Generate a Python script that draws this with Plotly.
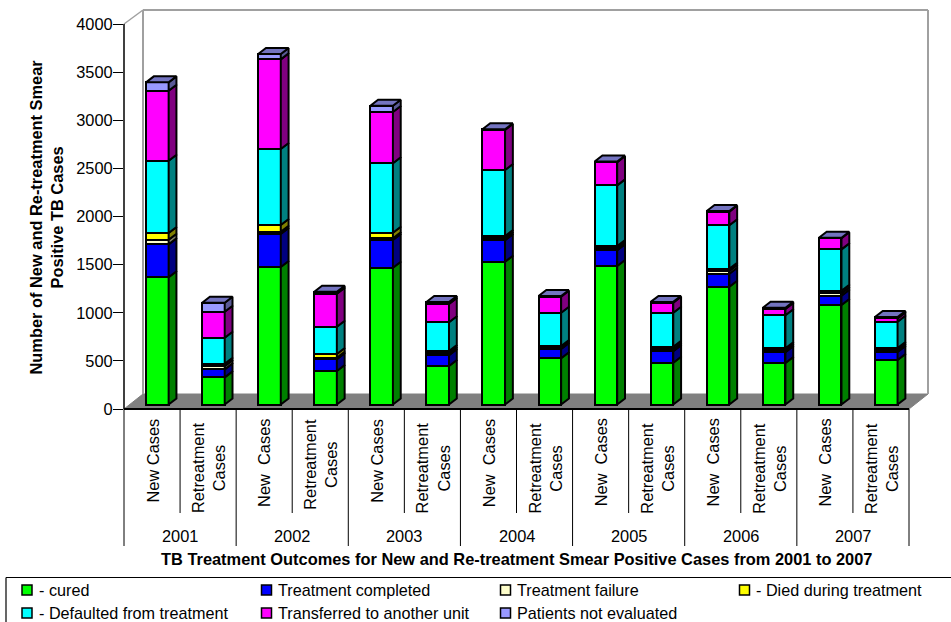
import plotly.graph_objects as go

# Reported cases per outcome, one value per cohort
years = ["2001", "2002", "2003", "2004", "2005", "2006", "2007"]
cohorts = ["New Cases", "New\u00a0 Cases", "New Cases", "New\u00a0 Cases", "New\u00a0 Cases", "New\u00a0 Cases", "New\u00a0 Cases"]
retreatment_label = "Retreatment<br>Cases"

cured = [1322, 282, 1428, 348, 1421, 400, 1484, 480, 1439, 434, 1224, 431, 1034, 462]
completed = [342, 83, 343, 122, 288, 111, 222, 97, 163, 119, 135, 111, 96, 83]
failure = [48, 32, 24, 16, 18, 20, 21, 15, 21, 20, 28, 24, 25, 21]
died = [70, 27, 70, 39, 58, 25, 24, 16, 24, 27, 24, 18, 27, 21]
defaulted = [751, 270, 790, 283, 721, 298, 685, 346, 630, 354, 451, 343, 430, 273]
transferred = [727, 270, 931, 343, 533, 190, 416, 166, 239, 104, 141, 65, 115, 35]
not_evaluated = [87, 94, 56, 21, 65, 21, 8, 8, 8, 8, 8, 14, 6, 14]

outcomes = [
    ("- cured", cured, "#00FF00", "#008000"),
    ("Treatment completed", completed, "#0000FF", "#000080"),
    ("Treatment failure", failure, "#FFFFCC", "#808066"),
    ("- Died during treatment", died, "#FFFF00", "#808000"),
    ("- Defaulted from treatment", defaulted, "#00FFFF", "#008080"),
    ("Transferred to another unit", transferred, "#FF00FF", "#800080"),
    ("Patients not evaluated", not_evaluated, "#9999FF", "#5A5A96"),
]
roof_colour = "#7373C0"

# Page geometry in pixels: the plot rectangle holds the front plane plus the depth
WIDTH, HEIGHT = 951, 622
LEFT, RIGHT, TOP, BOTTOM = 124, 930, 8, 409
FRONT_RIGHT = 909
N = len(cured)
PX_X = (FRONT_RIGHT - LEFT) / N
AXIS_MAX = 4000
PX_Y = (BOTTOM - 24) / AXIS_MAX
WALL_DX, WALL_DY = 19, 15
BAR_W = 22.6
BAR_DX, BAR_DY = 7.8, 6
BAR_SHIFT_X, BAR_SHIFT_Y = 5.3, 4.5
TEXT_SIZE = 16.4
LEGEND_SIZE = 16.2
EDGE = 2


def paper_x(px):
    return (px - LEFT) / (RIGHT - LEFT)


def paper_y(py):
    return (BOTTOM - py) / (BOTTOM - TOP)


fig = go.Figure()

# Front faces are ordinary stacked bars lifted onto the floor of the box
stack = [0] * N
front_x = [i + 0.5 + BAR_SHIFT_X / PX_X for i in range(N)]
lift = BAR_SHIFT_Y / PX_Y
half = BAR_W / 2 / PX_X
ddx = BAR_DX / PX_X
ddy = BAR_DY / PX_Y
for name, values, colour, shade in outcomes:
    fig.add_trace(go.Bar(
        x=front_x, y=values, base=[s + lift for s in stack], width=BAR_W / PX_X,
        name=name, marker=dict(color=colour, line=dict(color="black", width=EDGE)),
        showlegend=False,
    ))
    # Right-hand side of each segment, in the darker tone
    xs, ys = [], []
    for i in range(N):
        x0 = front_x[i] + half
        y0 = stack[i] + lift
        y1 = y0 + values[i]
        xs += [x0, x0 + ddx, x0 + ddx, x0, x0, None]
        ys += [y0, y0 + ddy, y1 + ddy, y1, y0, None]
    fig.add_trace(go.Scatter(
        x=xs, y=ys, mode="lines", fill="toself", fillcolor=shade,
        line=dict(color="black", width=EDGE), hoverinfo="skip", showlegend=False,
    ))
    stack = [s + v for s, v in zip(stack, values)]

# Roof of each column
xs, ys = [], []
for i in range(N):
    x0, x1 = front_x[i] - half, front_x[i] + half
    y0 = stack[i] + lift
    xs += [x0, x1, x1 + ddx, x0 + ddx, x0, None]
    ys += [y0, y0, y0 + ddy, y0 + ddy, y0, None]
fig.add_trace(go.Scatter(
    x=xs, y=ys, mode="lines", fill="toself", fillcolor=roof_colour,
    line=dict(color="black", width=EDGE), hoverinfo="skip", showlegend=False,
))

shapes = []


def paper_line(x0, y0, x1, y1, colour="black", width=1.0, layer="above"):
    shapes.append(dict(type="line", xref="paper", yref="paper",
                       x0=paper_x(x0), y0=paper_y(y0), x1=paper_x(x1), y1=paper_y(y1),
                       line=dict(color=colour, width=width), layer=layer))


# Floor and the walls of the box
back_l, back_r = LEFT + WALL_DX, FRONT_RIGHT + WALL_DX
floor_back, wall_top = BOTTOM - WALL_DY, 10
shapes.append(dict(
    type="path", xref="paper", yref="paper", layer="below",
    path=f"M{paper_x(LEFT)},{paper_y(BOTTOM)} L{paper_x(back_l)},{paper_y(floor_back)} "
         f"L{paper_x(back_r)},{paper_y(floor_back)} L{paper_x(FRONT_RIGHT)},{paper_y(BOTTOM)} Z",
    fillcolor="#808080", line=dict(color="#808080", width=1),
))
wall = "#A0A0A0"
paper_line(back_l, wall_top, back_l, floor_back, wall, 2, "below")
paper_line(back_l, wall_top, back_r, wall_top, wall, 2, "below")
paper_line(back_r, wall_top, back_r, floor_back, wall, 2, "below")
paper_line(LEFT, 24, back_l, wall_top, wall, 1.5, "below")

# Front axis lines
paper_line(LEFT, 24, LEFT, BOTTOM, "black", 1.5)
paper_line(LEFT, BOTTOM, FRONT_RIGHT, BOTTOM, "black", 2)

annotations = []


def label(text, x, y, size=TEXT_SIZE, bold=False, angle=0, anchor="center"):
    annotations.append(dict(
        text=f"<b>{text}</b>" if bold else text, xref="paper", yref="paper",
        x=paper_x(x), y=paper_y(y), xanchor=anchor, yanchor="middle",
        showarrow=False, textangle=angle,
        font=dict(family="Liberation Sans, Arial", size=size, color="black"),
    ))


# Two-level category axis: cohort labels over year labels
for i in range(N + 1):
    x = LEFT + i * PX_X
    paper_line(x, BOTTOM, x, 546 if i % 2 == 0 else 513)
for j, year in enumerate(years):
    new_centre = 460.5 if cohorts[j] == "New Cases" else 462.7
    label(cohorts[j], LEFT + (2 * j + 0.5) * PX_X, new_centre, angle=-90)
    label(retreatment_label, LEFT + (2 * j + 1.5) * PX_X, 464.5 if year == "2002" else 468, angle=-90)
    label(year, LEFT + (2 * j + 1) * PX_X, 536)

label("TB Treatment Outcomes for New and Re-treatment Smear Positive Cases from 2001 to 2007",
      516, 558.5, bold=True)
label("Number of New and Re-treatment Smear<br>Positive TB Cases", 45.5, 217, bold=True, angle=-90)

# Legend box, open on the right and below
paper_line(6, 577.5, WIDTH, 577.5, "black", 1.2)
paper_line(6, 577.5, 6, HEIGHT, "black", 1.2)
legend_slots = [(22, 590), (261.5, 590), (500.5, 590), (739.5, 590), (22, 613), (261.5, 613), (500.5, 613)]
for (name, _, colour, _), (sx, sy) in zip(outcomes, legend_slots):
    shapes.append(dict(
        type="rect", xref="paper", yref="paper",
        x0=paper_x(sx), x1=paper_x(sx + 10), y0=paper_y(sy - 5), y1=paper_y(sy + 5),
        fillcolor=colour, line=dict(color="black", width=1.5),
    ))
    label(name, sx + 14.5, sy - 0.5, size=LEGEND_SIZE, anchor="left")

fig.update_layout(
    width=WIDTH, height=HEIGHT, barmode="overlay", bargap=0,
    margin=dict(l=LEFT, r=WIDTH - RIGHT, t=TOP, b=HEIGHT - BOTTOM, pad=0),
    paper_bgcolor="white", plot_bgcolor="white", showlegend=False,
    shapes=shapes, annotations=annotations,
    font=dict(family="Liberation Sans, Arial", size=TEXT_SIZE, color="black"),
    xaxis=dict(range=[0, (RIGHT - LEFT) / PX_X], visible=False, fixedrange=True),
    yaxis=dict(
        range=[0, (BOTTOM - TOP) / PX_Y], tickmode="array",
        tickvals=[0, 500, 1000, 1500, 2000, 2500, 3000, 3500, 4000],
        ticks="outside", ticklen=10, tickwidth=1, tickcolor="black",
        ticklabelstandoff=-3,
        showgrid=False, zeroline=False, showline=False, fixedrange=True,
        tickfont=dict(family="Liberation Sans, Arial", size=TEXT_SIZE, color="black"),
    ),
)

fig.write_html("out.html", config=dict(displayModeBar=False))
